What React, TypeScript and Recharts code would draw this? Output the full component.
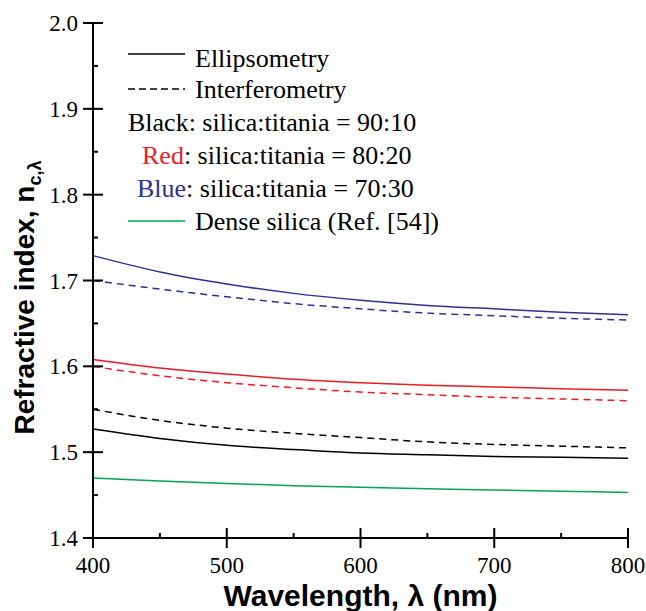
import * as React from 'react';
import { LineChart, Line, XAxis, YAxis, Label } from 'recharts';

// wavelength (nm)
const wavelengths = [400, 450, 500, 550, 600, 650, 700, 750, 800];

// silica:titania = 90:10 (black)
const ellipsometry90 = [1.527, 1.516, 1.508, 1.503, 1.499, 1.497, 1.495, 1.494, 1.493];
const interferometry90 = [1.550, 1.537, 1.528, 1.522, 1.517, 1.512, 1.509, 1.507, 1.505];
// silica:titania = 80:20 (red)
const ellipsometry80 = [1.608, 1.598, 1.591, 1.585, 1.581, 1.578, 1.576, 1.574, 1.572];
const interferometry80 = [1.600, 1.589, 1.581, 1.575, 1.570, 1.567, 1.564, 1.562, 1.560];
// silica:titania = 70:30 (blue)
const ellipsometry70 = [1.729, 1.710, 1.696, 1.685, 1.677, 1.671, 1.667, 1.663, 1.660];
const interferometry70 = [1.700, 1.690, 1.681, 1.673, 1.667, 1.662, 1.659, 1.656, 1.654];
// dense silica, Ref. [54]
const denseSilica = [1.470, 1.4665, 1.4635, 1.461, 1.459, 1.4573, 1.456, 1.4545, 1.453];

const xTicks = [400, 450, 500, 550, 600, 650, 700, 750, 800];
const xMajorTicks = [400, 500, 600, 700, 800];
const yTicks = [1.4, 1.45, 1.5, 1.55, 1.6, 1.65, 1.7, 1.75, 1.8, 1.85, 1.9, 1.95, 2.0];

const BLACK = '#000000';
const RED = '#ed1c24';
const BLUE = '#2e3192';
const GREEN = '#00a651';
const SERIF = "'Liberation Serif', 'Times New Roman', serif";
const SANS = "'Liberation Sans', Arial, sans-serif";

const serifStyle = { fontFamily: SERIF };
const sansStyle = { fontFamily: SANS, fontWeight: 'bold' as const };

const data = wavelengths.map((w, i) => ({
    wavelength: w,
    e90: ellipsometry90[i],
    i90: interferometry90[i],
    e80: ellipsometry80[i],
    i80: interferometry80[i],
    e70: ellipsometry70[i],
    i70: interferometry70[i],
    dense: denseSilica[i]
}));

const isMajorX = (v: number) => xMajorTicks.indexOf(v) >= 0;
const isMajorY = (v: number) => Math.abs(v * 10 - Math.round(v * 10)) < 1e-6;

const BottomTick = (props: any) => {
    const { x, y, payload } = props;
    const major = isMajorX(payload.value);
    return (
        <g>
            <line x1={x} x2={x} y1={major ? y + 10 : y} y2={y - (major ? 10 : 5)} stroke="#000" strokeWidth={2} />
            {major && (
                <text x={x} y={y + 35} textAnchor="middle" style={{ ...serifStyle, fontSize: 23 }} fill="#000">
                    {payload.value}
                </text>
            )}
        </g>
    );
};

const TopTick = (props: any) => {
    const { x, y, payload } = props;
    const major = isMajorX(payload.value);
    return <line x1={x} x2={x} y1={y} y2={y + (major ? 10 : 5)} stroke="#000" strokeWidth={2} />;
};

const LeftTick = (props: any) => {
    const { x, y, payload } = props;
    const major = isMajorY(payload.value);
    return (
        <g>
            <line x1={major ? x - 10 : x} x2={x + (major ? 10 : 5)} y1={y} y2={y} stroke="#000" strokeWidth={2} />
            {major && (
                <text x={x - 15} y={y + 8} textAnchor="end" style={{ ...serifStyle, fontSize: 23 }} fill="#000">
                    {payload.value.toFixed(1)}
                </text>
            )}
        </g>
    );
};

const RightTick = (props: any) => {
    const { x, y, payload } = props;
    const major = isMajorY(payload.value);
    return <line x1={x} x2={x - (major ? 10 : 5)} y1={y} y2={y} stroke="#000" strokeWidth={2} />;
};

const XTitle = (props: any) => {
    const vb = props.viewBox || {};
    return (
        <text x={vb.x + vb.width / 2} y={vb.y + 68} textAnchor="middle" style={{ ...sansStyle, fontSize: 30 }} fill="#000">
            Wavelength, λ (nm)
        </text>
    );
};

const YTitle = (props: any) => {
    const vb = props.viewBox || {};
    const cx = vb.x + 3.5;
    const cy = vb.y + vb.height / 2 + 17;
    return (
        <text transform={`translate(${cx},${cy}) rotate(-90)`} x={0} y={0} textAnchor="middle" style={{ ...sansStyle, fontSize: 28 }} fill="#000">
            Refractive index, n
            <tspan style={{ fontSize: 18 }} dy={7}>c,λ</tspan>
        </text>
    );
};

const LegendBox = () => (
    <svg width={646} height={611} style={{ position: 'absolute', left: 0, top: 0, pointerEvents: 'none' }}>
        <g style={{ ...serifStyle, fontSize: 26 }} fill="#000">
            <line x1={128} x2={185} y1={54} y2={54} stroke={BLACK} strokeWidth={1.5} />
            <text x={195} y={67}>Ellipsometry</text>
            <line x1={128} x2={185} y1={89} y2={89} stroke={BLACK} strokeWidth={1.5} strokeDasharray="7 4" />
            <text x={195} y={98}>Interferometry</text>
            <text x={128} y={131}>Black: silica:titania = 90:10</text>
            <text x={142} y={164}><tspan fill={RED}>Red</tspan>: silica:titania = 80:20</text>
            <text x={137} y={197}><tspan fill={BLUE}>Blue</tspan>: silica:titania = 70:30</text>
            <line x1={128} x2={185} y1={221} y2={221} stroke={GREEN} strokeWidth={1.5} />
            <text x={195} y={230}>Dense silica (Ref. [54])</text>
        </g>
    </svg>
);

export default function App() {
    return (
        <div style={{ position: 'absolute', left: 0, top: 0, width: 646, height: 611, background: '#fff' }}>
            <LineChart width={646} height={611} data={data} margin={{ top: 23, right: 18, bottom: 23, left: 30 }}>
                <XAxis
                    dataKey="wavelength"
                    type="number"
                    domain={[400, 800]}
                    ticks={xTicks}
                    interval={0}
                    height={50}
                    tickSize={0}
                    tickMargin={0}
                    tickLine={false}
                    axisLine={{ stroke: '#000', strokeWidth: 2 }}
                    tick={<BottomTick />}
                >
                    <Label content={<XTitle />} />
                </XAxis>
                <XAxis
                    xAxisId="top"
                    orientation="top"
                    dataKey="wavelength"
                    type="number"
                    domain={[400, 800]}
                    ticks={xTicks}
                    interval={0}
                    height={0}
                    tickSize={0}
                    tickMargin={0}
                    tickLine={false}
                    axisLine={{ stroke: '#000', strokeWidth: 2 }}
                    tick={<TopTick />}
                />
                <YAxis
                    type="number"
                    domain={[1.4, 2.0]}
                    ticks={yTicks}
                    interval={0}
                    width={63}
                    tickSize={0}
                    tickMargin={0}
                    tickLine={false}
                    axisLine={{ stroke: '#000', strokeWidth: 2 }}
                    tick={<LeftTick />}
                >
                    <Label content={<YTitle />} />
                </YAxis>
                <YAxis
                    yAxisId="right"
                    orientation="right"
                    type="number"
                    domain={[1.4, 2.0]}
                    ticks={yTicks}
                    interval={0}
                    width={0}
                    tickSize={0}
                    tickMargin={0}
                    tickLine={false}
                    axisLine={{ stroke: '#000', strokeWidth: 2 }}
                    tick={<RightTick />}
                />
                <Line dataKey="e70" type="monotone" stroke={BLUE} strokeWidth={1.5} dot={false} isAnimationActive={false} />
                <Line dataKey="i70" type="monotone" stroke={BLUE} strokeWidth={1.5} strokeDasharray="7 5" dot={false} isAnimationActive={false} />
                <Line dataKey="e80" type="monotone" stroke={RED} strokeWidth={1.5} dot={false} isAnimationActive={false} />
                <Line dataKey="i80" type="monotone" stroke={RED} strokeWidth={1.5} strokeDasharray="7 5" dot={false} isAnimationActive={false} />
                <Line dataKey="i90" type="monotone" stroke={BLACK} strokeWidth={1.5} strokeDasharray="7 5" dot={false} isAnimationActive={false} />
                <Line dataKey="e90" type="monotone" stroke={BLACK} strokeWidth={1.5} dot={false} isAnimationActive={false} />
                <Line dataKey="dense" type="monotone" stroke={GREEN} strokeWidth={1.5} dot={false} isAnimationActive={false} />
            </LineChart>
            <LegendBox />
        </div>
    );
}
